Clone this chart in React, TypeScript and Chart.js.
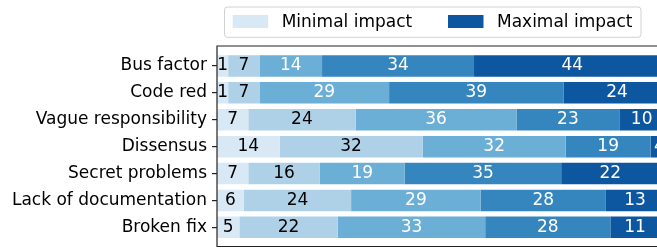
import React, { useEffect, useRef } from "react";
import { Chart, registerables } from "chart.js";

Chart.register(...registerables);

const categories = [
  "Bus factor",
  "Code red",
  "Vague responsibility",
  "Dissensus",
  "Secret problems",
  "Lack of documentation",
  "Broken fix",
];

const seriesNames = ["Minimal impact", "Low impact", "Medium impact", "High impact", "Maximal impact"];
const legendNames = ["Minimal impact", "Maximal impact"];

const minimalImpact = [2.5, 2.5, 7, 14, 7, 6, 5];
const minimalLabels = [1, 1, 7, 14, 7, 6, 5];
const lowImpact = [7, 7, 24, 32, 16, 24, 22];
const mediumImpact = [14, 29, 36, 32, 19, 29, 33];
const highImpact = [34, 39, 23, 19, 35, 28, 28];
const maximalImpact = [44, 24, 10, 4, 22, 13, 11];

const seriesValues = [minimalImpact, lowImpact, mediumImpact, highImpact, maximalImpact];
const seriesLabels = [minimalLabels, lowImpact, mediumImpact, highImpact, maximalImpact];

const colors = ["#d9e8f5", "#aed1e7", "#6baed6", "#3585bf", "#0d57a1"];
const labelColors = ["#000", "#000", "#fff", "#fff", "#fff"];

const FONT = "'DejaVu Sans', sans-serif";

const labelPlugin = {
  id: "segLabels",
  afterDatasetsDraw(chart: any) {
    const ctx = chart.ctx;
    ctx.save();
    ctx.font = `17px ${FONT}`;
    ctx.textAlign = "center";
    ctx.textBaseline = "alphabetic";
    chart.data.datasets.forEach((ds: any, di: number) => {
      const meta = chart.getDatasetMeta(di);
      meta.data.forEach((el: any, i: number) => {
        const p = el.getProps(["x", "base", "y"], true);
        const cx = (p.x + p.base) / 2;
        ctx.fillStyle = labelColors[di];
        ctx.fillText(String(seriesLabels[di][i]), cx, p.y + 4.3);
      });
    });
    ctx.restore();
  },
};

const framePlugin = {
  id: "frameAndLegend",
  afterDraw(chart: any) {
    const ctx = chart.ctx;
    const ca = chart.chartArea;
    const W = chart.width;
    const top = 46;
    const bottom = 246.5;
    ctx.save();
    ctx.strokeStyle = "#222";
    ctx.lineWidth = 1.2;
    ctx.beginPath();
    ctx.moveTo(W, top);
    ctx.lineTo(ca.left, top);
    ctx.lineTo(ca.left, bottom);
    ctx.lineTo(W, bottom);
    ctx.stroke();

    // legend
    const lx = 224.5, ly = 7, lw = 416.5, lh = 30.3, r = 3;
    ctx.beginPath();
    ctx.moveTo(lx + r, ly);
    ctx.lineTo(lx + lw - r, ly);
    ctx.quadraticCurveTo(lx + lw, ly, lx + lw, ly + r);
    ctx.lineTo(lx + lw, ly + lh - r);
    ctx.quadraticCurveTo(lx + lw, ly + lh, lx + lw - r, ly + lh);
    ctx.lineTo(lx + r, ly + lh);
    ctx.quadraticCurveTo(lx, ly + lh, lx, ly + lh - r);
    ctx.lineTo(lx, ly + r);
    ctx.quadraticCurveTo(lx, ly, lx + r, ly);
    ctx.closePath();
    ctx.fillStyle = "rgba(255,255,255,0.8)";
    ctx.fill();
    ctx.strokeStyle = "#d0d0d0";
    ctx.lineWidth = 1;
    ctx.stroke();

    const swX = [232.7, 448];
    const txX = [281.7, 497];
    const swColors = [colors[0], colors[4]];
    ctx.font = `17px ${FONT}`;
    ctx.textAlign = "left";
    ctx.textBaseline = "alphabetic";
    for (let k = 0; k < 2; k++) {
      ctx.fillStyle = swColors[k];
      ctx.fillRect(swX[k], 15, 35.5, 13);
      ctx.fillStyle = "#000";
      ctx.fillText(legendNames[k], txX[k], 27);
    }
    ctx.restore();
  },
};

export default function App() {
  const ref = useRef<HTMLCanvasElement | null>(null);

  useEffect(() => {
    document.body.style.margin = "0";
    const canvas = ref.current;
    if (!canvas) return;
    const chart = new Chart(canvas, {
      type: "bar",
      data: {
        labels: categories,
        datasets: seriesValues.map((vals, i) => ({
          label: seriesNames[i],
          data: vals,
          backgroundColor: colors[i],
          borderWidth: 0,
          categoryPercentage: 1,
          barPercentage: 0.8,
        })),
      },
      options: {
        indexAxis: "y",
        animation: false,
        responsive: false,
        events: [],
        layout: { padding: { top: 52.5, bottom: 14.8, left: 0, right: 36 } },
        plugins: {
          legend: { display: false },
          tooltip: { enabled: false },
          title: { display: false },
        },
        scales: {
          x: { type: "linear", min: 0, max: 100, stacked: true, display: false },
          y: {
            type: "category",
            stacked: true,
            offset: true,
            border: { display: false },
            grid: {
              offset: false,
              drawOnChartArea: false,
              drawTicks: true,
              tickLength: 5,
              color: "#222",
              lineWidth: 1.2,
            },
            ticks: {
              font: { family: FONT, size: 17 },
              color: "#000",
              padding: 5,
            },
            afterFit: (s: any) => {
              s.width = 217;
            },
          },
        },
      } as any,
      plugins: [labelPlugin, framePlugin],
    });
    return () => chart.destroy();
  }, []);

  return (
    <div style={{ width: 657, height: 248, overflow: "hidden", position: "relative" }}>
      <canvas ref={ref} width={700} height={256} style={{ width: 700, height: 256, display: "block" }} />
    </div>
  );
}
